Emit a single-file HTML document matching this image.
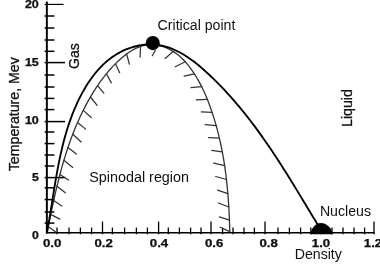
<!DOCTYPE html><html><head><meta charset="utf-8"><style>html,body{margin:0;padding:0;background:#fff}svg{display:block;will-change:transform}text{font-family:"Liberation Sans",sans-serif;fill:#111}</style></head><body>
<svg width="380" height="267" viewBox="0 0 380 267">
<rect width="380" height="267" fill="#fff"/>
<g stroke="#000" fill="none">
<line x1="46.85" y1="1.6" x2="46.85" y2="233.5" stroke-width="1.95"/>
<line x1="45.9" y1="232.7" x2="374.6" y2="232.7" stroke-width="1.6"/>
</g>
<g stroke="#000" stroke-width="1.5">
<line x1="44.6" y1="4.40" x2="63.60" y2="4.40" stroke-width="1.15"/>
<line x1="44.6" y1="16.00" x2="54.40" y2="16.00"/>
<line x1="44.6" y1="28.00" x2="54.40" y2="28.00"/>
<line x1="44.6" y1="40.00" x2="54.40" y2="40.00"/>
<line x1="44.6" y1="51.30" x2="54.40" y2="51.30"/>
<line x1="44.6" y1="62.60" x2="65.00" y2="62.60"/>
<line x1="44.6" y1="75.00" x2="54.40" y2="75.00"/>
<line x1="44.6" y1="87.00" x2="54.40" y2="87.00"/>
<line x1="44.6" y1="98.40" x2="54.40" y2="98.40"/>
<line x1="44.6" y1="109.60" x2="54.40" y2="109.60"/>
<line x1="44.6" y1="121.60" x2="65.00" y2="121.60"/>
<line x1="44.6" y1="132.00" x2="54.40" y2="132.00"/>
<line x1="44.6" y1="143.60" x2="54.40" y2="143.60"/>
<line x1="44.6" y1="155.00" x2="54.40" y2="155.00"/>
<line x1="44.6" y1="166.00" x2="54.40" y2="166.00"/>
<line x1="44.6" y1="177.60" x2="65.00" y2="177.60"/>
<line x1="44.6" y1="187.80" x2="54.40" y2="187.80"/>
<line x1="44.6" y1="199.60" x2="54.40" y2="199.60"/>
<line x1="44.6" y1="212.00" x2="54.40" y2="212.00"/>
<line x1="44.6" y1="223.10" x2="54.40" y2="223.10"/>
</g>
<g stroke="#000" stroke-width="1.3">
<line x1="57.00" y1="234.3" x2="57.00" y2="227.60"/>
<line x1="69.00" y1="234.3" x2="69.00" y2="227.60"/>
<line x1="80.40" y1="234.3" x2="80.40" y2="227.60"/>
<line x1="91.60" y1="234.3" x2="91.60" y2="227.60"/>
<line x1="102.50" y1="234.3" x2="102.50" y2="221.60"/>
<line x1="112.40" y1="234.3" x2="112.40" y2="227.60"/>
<line x1="124.60" y1="234.3" x2="124.60" y2="227.60"/>
<line x1="136.40" y1="234.3" x2="136.40" y2="227.60"/>
<line x1="147.40" y1="234.3" x2="147.40" y2="227.60"/>
<line x1="158.60" y1="234.3" x2="158.60" y2="221.60"/>
<line x1="168.30" y1="234.3" x2="168.30" y2="227.60"/>
<line x1="179.40" y1="234.3" x2="179.40" y2="227.60"/>
<line x1="190.60" y1="234.3" x2="190.60" y2="227.60"/>
<line x1="201.00" y1="234.3" x2="201.00" y2="227.60"/>
<line x1="211.00" y1="234.3" x2="211.00" y2="221.60"/>
<line x1="222.60" y1="234.3" x2="222.60" y2="227.60"/>
<line x1="233.00" y1="234.3" x2="233.00" y2="227.60"/>
<line x1="244.00" y1="234.3" x2="244.00" y2="227.60"/>
<line x1="254.40" y1="234.3" x2="254.40" y2="227.60"/>
<line x1="265.00" y1="234.3" x2="265.00" y2="221.60"/>
<line x1="278.00" y1="234.3" x2="278.00" y2="227.60"/>
<line x1="289.40" y1="234.3" x2="289.40" y2="227.60"/>
<line x1="300.60" y1="234.3" x2="300.60" y2="227.60"/>
<line x1="310.80" y1="234.3" x2="310.80" y2="227.60"/>
<line x1="320.80" y1="234.3" x2="320.80" y2="226.00"/>
<line x1="332.00" y1="234.3" x2="332.00" y2="227.60"/>
<line x1="343.00" y1="234.3" x2="343.00" y2="227.60"/>
<line x1="354.00" y1="234.3" x2="354.00" y2="227.60"/>
<line x1="364.60" y1="234.3" x2="364.60" y2="227.60"/>
<line x1="374.00" y1="234.3" x2="374.00" y2="221.60"/>
</g>
<path d="M47.00 232.50 L47.57 229.71 L48.15 226.92 L48.72 224.14 L49.29 221.36 L49.86 218.59 L50.44 215.83 L51.02 213.07 L51.60 210.31 L52.19 207.56 L52.78 204.82 L53.38 202.08 L53.98 199.34 L54.59 196.61 L55.21 193.89 L55.84 191.17 L56.47 188.46 L57.12 185.75 L57.78 183.05 L58.45 180.35 L59.13 177.66 L59.82 174.98 L60.53 172.30 L61.25 169.62 L61.99 166.95 L62.74 164.29 L63.51 161.63 L64.30 158.98 L65.11 156.33 L65.93 153.69 L66.78 151.06 L67.64 148.43 L68.53 145.81 L69.44 143.19 L70.37 140.58 L71.32 137.97 L72.30 135.37 L73.30 132.78 L74.33 130.19 L75.39 127.61 L76.47 125.03 L77.58 122.46 L78.72 119.90 L79.88 117.34 L81.08 114.79 L82.31 112.24 L83.57 109.70 L84.86 107.17 L86.18 104.64 L87.54 102.13 L88.93 99.62 L90.36 97.14 L91.82 94.66 L93.31 92.21 L94.84 89.78 L96.40 87.38 L98.00 85.00 L99.64 82.64 L101.31 80.32 L103.02 78.03 L104.77 75.78 L106.55 73.57 L108.38 71.39 L110.24 69.26 L112.14 67.17 L114.08 65.13 L116.06 63.14 L118.08 61.19 L120.15 59.31 L122.25 57.48 L124.39 55.72 L126.58 54.04 L128.81 52.46 L131.08 50.99 L133.39 49.64 L135.75 48.42 L138.15 47.36 L140.60 46.44 L143.09 45.71 L145.63 45.15 L148.21 44.80 L150.83 44.65 L153.51 44.73 L156.22 45.03 L158.94 45.54 L161.67 46.25 L164.38 47.14 L167.05 48.22 L169.66 49.46 L172.19 50.85 L174.63 52.38 L176.96 54.05 L179.18 55.83 L181.29 57.72 L183.31 59.70 L185.23 61.77 L187.08 63.91 L188.85 66.11 L190.55 68.36 L192.19 70.65 L193.77 72.98 L195.30 75.34 L196.77 77.74 L198.18 80.17 L199.55 82.63 L200.87 85.12 L202.13 87.63 L203.36 90.17 L204.53 92.73 L205.67 95.31 L206.76 97.91 L207.82 100.53 L208.84 103.16 L209.82 105.80 L210.77 108.46 L211.69 111.12 L212.58 113.79 L213.44 116.47 L214.27 119.15 L215.08 121.83 L215.85 124.52 L216.61 127.22 L217.33 129.92 L218.03 132.63 L218.70 135.34 L219.35 138.06 L219.98 140.78 L220.58 143.51 L221.16 146.24 L221.71 148.97 L222.25 151.71 L222.76 154.45 L223.24 157.20 L223.71 159.95 L224.16 162.70 L224.58 165.46 L224.99 168.22 L225.37 170.99 L225.74 173.76 L226.09 176.53 L226.42 179.31 L226.73 182.08 L227.03 184.86 L227.30 187.65 L227.56 190.44 L227.81 193.23 L228.04 196.02 L228.25 198.81 L228.45 201.61 L228.64 204.41 L228.81 207.21 L228.97 210.01 L229.11 212.82 L229.25 215.62 L229.37 218.43 L229.47 221.24 L229.57 224.06 L229.66 226.87 L229.73 229.68 L229.80 232.50" fill="none" stroke="#333" stroke-width="1.3"/>
<g stroke="#333" stroke-width="1.25" stroke-linecap="round">
<line x1="48.23" y1="226.51" x2="55.72" y2="232.01"/>
<line x1="50.74" y1="214.39" x2="59.77" y2="219.14"/>
<line x1="53.72" y1="200.52" x2="61.76" y2="206.01"/>
<line x1="57.00" y1="186.24" x2="65.30" y2="192.72"/>
<line x1="59.96" y1="174.46" x2="68.58" y2="180.08"/>
<line x1="63.89" y1="160.36" x2="72.74" y2="167.43"/>
<line x1="67.93" y1="147.56" x2="76.37" y2="154.08"/>
<line x1="72.76" y1="134.18" x2="81.18" y2="141.94"/>
<line x1="77.57" y1="122.48" x2="85.63" y2="129.14"/>
<line x1="83.22" y1="110.40" x2="91.26" y2="117.55"/>
<line x1="90.43" y1="97.01" x2="97.12" y2="105.30"/>
<line x1="97.59" y1="85.60" x2="103.84" y2="93.05"/>
<line x1="106.40" y1="73.76" x2="111.30" y2="82.83"/>
<line x1="115.51" y1="63.68" x2="119.66" y2="72.64"/>
<line x1="126.60" y1="54.02" x2="129.40" y2="64.21"/>
<line x1="140.54" y1="46.47" x2="140.12" y2="57.13"/>
<line x1="155.30" y1="50.20" x2="152.30" y2="55.70"/>
<line x1="173.13" y1="51.42" x2="165.17" y2="58.41"/>
<line x1="185.21" y1="61.74" x2="175.25" y2="66.77"/>
<line x1="194.38" y1="73.91" x2="184.19" y2="76.15"/>
<line x1="201.69" y1="86.73" x2="190.99" y2="87.71"/>
<line x1="207.37" y1="99.41" x2="196.29" y2="99.80"/>
<line x1="212.10" y1="112.35" x2="201.40" y2="111.98"/>
<line x1="216.15" y1="125.58" x2="205.18" y2="124.69"/>
<line x1="219.36" y1="138.07" x2="208.58" y2="137.59"/>
<line x1="222.30" y1="151.97" x2="211.75" y2="150.38"/>
<line x1="224.61" y1="165.64" x2="213.70" y2="163.07"/>
<line x1="226.44" y1="179.51" x2="215.72" y2="176.51"/>
<line x1="227.85" y1="193.68" x2="217.52" y2="190.19"/>
<line x1="228.80" y1="207.03" x2="218.40" y2="203.01"/>
<line x1="229.43" y1="220.08" x2="219.37" y2="216.89"/>
<line x1="229.78" y1="231.60" x2="220.14" y2="227.20"/>
</g>
<path d="M47.00 232.50 L47.55 229.52 L48.08 226.52 L48.60 223.52 L49.11 220.50 L49.62 217.48 L50.11 214.44 L50.60 211.40 L51.09 208.35 L51.58 205.30 L52.06 202.24 L52.55 199.17 L53.04 196.10 L53.53 193.03 L54.02 189.96 L54.52 186.88 L55.04 183.80 L55.55 180.73 L56.09 177.65 L56.63 174.57 L57.19 171.50 L57.76 168.43 L58.35 165.36 L58.95 162.29 L59.58 159.23 L60.23 156.18 L60.90 153.13 L61.59 150.09 L62.31 147.06 L63.06 144.03 L63.84 141.02 L64.64 138.01 L65.48 135.02 L66.35 132.03 L67.26 129.06 L68.20 126.10 L69.17 123.16 L70.19 120.23 L71.25 117.31 L72.35 114.41 L73.49 111.53 L74.68 108.67 L75.91 105.82 L77.19 102.99 L78.52 100.18 L79.90 97.40 L81.33 94.63 L82.82 91.89 L84.36 89.17 L85.95 86.49 L87.61 83.84 L89.32 81.24 L91.10 78.69 L92.93 76.19 L94.83 73.75 L96.80 71.37 L98.83 69.06 L100.94 66.82 L103.11 64.65 L105.35 62.57 L107.66 60.58 L110.05 58.67 L112.52 56.87 L115.06 55.17 L117.68 53.57 L120.38 52.08 L123.16 50.71 L126.01 49.46 L128.92 48.34 L131.88 47.35 L134.88 46.49 L137.91 45.78 L140.96 45.21 L144.01 44.79 L147.06 44.52 L150.09 44.42 L153.10 44.48 L156.08 44.71 L159.02 45.10 L161.92 45.65 L164.79 46.34 L167.62 47.18 L170.42 48.15 L173.19 49.25 L175.93 50.47 L178.63 51.81 L181.30 53.25 L183.94 54.80 L186.55 56.44 L189.13 58.16 L191.67 59.97 L194.19 61.84 L196.68 63.79 L199.14 65.79 L201.57 67.85 L203.97 69.95 L206.34 72.09 L208.69 74.26 L211.01 76.46 L213.31 78.67 L215.58 80.90 L217.82 83.15 L220.04 85.42 L222.23 87.69 L224.40 89.99 L226.55 92.30 L228.67 94.62 L230.77 96.95 L232.85 99.30 L234.90 101.66 L236.94 104.04 L238.95 106.43 L240.94 108.83 L242.91 111.24 L244.86 113.66 L246.80 116.09 L248.71 118.53 L250.60 120.98 L252.48 123.45 L254.34 125.92 L256.18 128.40 L258.01 130.89 L259.82 133.39 L261.61 135.89 L263.39 138.41 L265.16 140.93 L266.91 143.46 L268.65 146.00 L270.38 148.54 L272.09 151.10 L273.80 153.66 L275.49 156.22 L277.17 158.80 L278.85 161.37 L280.51 163.96 L282.17 166.55 L283.82 169.15 L285.46 171.75 L287.10 174.36 L288.73 176.97 L290.35 179.59 L291.97 182.21 L293.59 184.84 L295.20 187.47 L296.81 190.11 L298.42 192.75 L300.02 195.39 L301.63 198.04 L303.23 200.69 L304.83 203.34 L306.44 206.00 L308.04 208.66 L309.65 211.32 L311.26 213.98 L312.87 216.65 L314.49 219.32 L316.11 221.98 L317.73 224.66 L319.36 227.33 L321.00 230.00" fill="none" stroke="#000" stroke-width="1.85"/>
<circle cx="152.8" cy="43.1" r="7.05" fill="#000"/>
<path d="M310.4 234.2 C311.2 228.5 315.6 223.1 320.8 223.1 C326.5 223.1 331.6 228 332.9 234.2 Z" fill="#000"/>
<g font-weight="bold" font-size="10.3" style="fill:#000" stroke="#000" stroke-width="0.25">
<text x="24.90" y="8.20" font-size="10.7" textLength="13.9" lengthAdjust="spacingAndGlyphs">20</text>
<text x="24.90" y="66.20" font-size="10.7" textLength="13.9" lengthAdjust="spacingAndGlyphs">15</text>
<text x="24.90" y="124.20" font-size="10.7" textLength="13.9" lengthAdjust="spacingAndGlyphs">10</text>
<text x="32.00" y="181.20" font-size="10.7" textLength="6.8" lengthAdjust="spacingAndGlyphs">5</text>
<text x="32.00" y="239.20" font-size="10.7" textLength="6.8" lengthAdjust="spacingAndGlyphs">0</text>
<text x="42.90" y="247" textLength="18.4" lengthAdjust="spacingAndGlyphs">0.0</text>
<text x="94.50" y="247" textLength="18.4" lengthAdjust="spacingAndGlyphs">0.2</text>
<text x="149.80" y="247" textLength="18.4" lengthAdjust="spacingAndGlyphs">0.4</text>
<text x="204.90" y="247" textLength="18.4" lengthAdjust="spacingAndGlyphs">0.6</text>
<text x="259.50" y="247" textLength="18.4" lengthAdjust="spacingAndGlyphs">0.8</text>
<text x="311.80" y="247" textLength="18.4" lengthAdjust="spacingAndGlyphs">1.0</text>
<text x="363.80" y="247" textLength="18.4" lengthAdjust="spacingAndGlyphs">1.2</text>
</g>
<g font-size="14.15">
<text x="157.6" y="30.3">Critical point</text>
<text x="89.3" y="181.6" font-size="14.35">Spinodal region</text>
<text x="319.9" y="215.7">Nucleus</text>
<text x="294.7" y="259">Density</text>
<text transform="translate(79.4,69.0) rotate(-90)" stroke="#111" stroke-width="0.3">Gas</text>
<text transform="translate(352.4,126.9) rotate(-90)" stroke="#111" stroke-width="0.3">Liquid</text>
<text transform="translate(18.7,171.2) rotate(-90)" stroke="#111" stroke-width="0.3">Temperature, Mev</text>
</g>
</svg></body></html>
